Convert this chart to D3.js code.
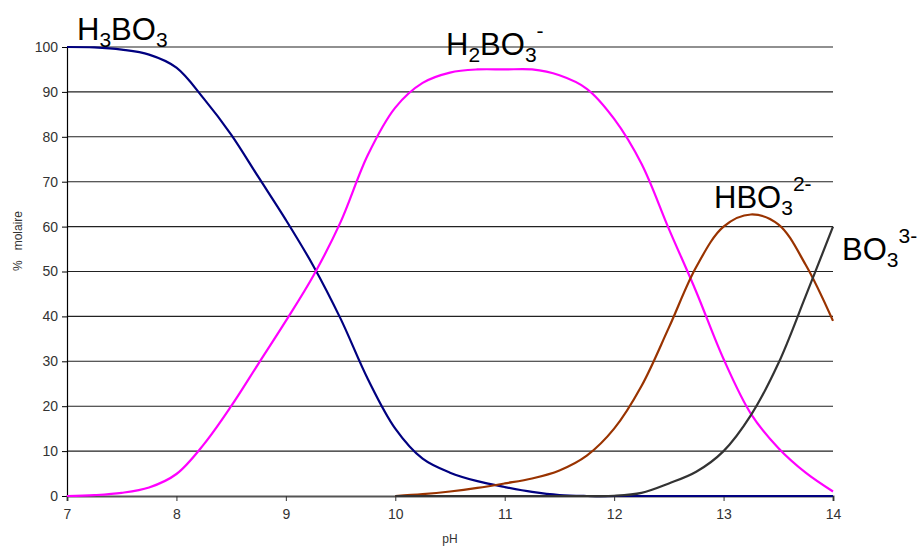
<!DOCTYPE html>
<html>
<head>
<meta charset="utf-8">
<script src="https://cdn.jsdelivr.net/npm/d3@7"></script>
<style>
  html, body { margin: 0; padding: 0; background: #fff; }
  svg { display: block; font-family: "Liberation Sans", Arial, sans-serif; }
</style>
</head>
<body>
<svg id="chart" width="921" height="546"></svg>
<script>
// ---- data ----
const pH = [7, 7.25, 7.5, 7.75, 8, 8.25, 8.5, 8.75, 9, 9.25, 9.5, 9.75, 10, 10.25, 10.5, 10.75,
            11, 11.25, 11.5, 11.75, 12, 12.25, 12.5, 12.75, 13, 13.25, 13.5, 13.75, 14];
const H3BO3 = [100, 99.9, 99.4, 98.3, 95.4, 88.5, 80.5, 71, 61.5, 51.3, 39.5, 26, 15, 8.3, 5.2, 3.3,
               2, 0.9, 0.2, 0, 0, 0, 0, 0, 0, 0, 0, 0, 0];
const H2BO3 = [0, 0.2, 0.7, 1.9, 4.9, 11.5, 20, 29.5, 39, 49, 61, 76, 86.5, 92, 94.3, 95,
               95, 95, 93.7, 90.7, 84, 74, 59.5, 45.5, 30.5, 18.3, 10.7, 5.2, 1];
const HBO3 = [null, null, null, null, null, null, null, null, null, null, null, null, 0, 0.4, 1.0, 1.8,
              2.8, 3.9, 5.7, 9, 15, 24.5, 37.5, 51, 60, 62.7, 60.5, 51.5, 39];
const BO3 = [null, null, null, null, null, null, null, null, null, null, null, null, 0, 0, 0, 0,
             0, 0, 0, 0, 0.05, 0.7, 2.8, 5.4, 10, 18, 29.5, 44.5, 60];
const xTicks = [7, 8, 9, 10, 11, 12, 13, 14];
const yTicks = [0, 10, 20, 30, 40, 50, 60, 70, 80, 90, 100];

const series = [
  { name: "H3BO3", values: H3BO3, color: "#000080" },
  { name: "H2BO3", values: H2BO3, color: "#FF00FF" },
  { name: "HBO3", values: HBO3, color: "#993300" },
  { name: "BO3", values: BO3, color: "#333333" }
];

// ---- layout ----
const svg = d3.select("#chart");
const x0 = 67, x1 = 833, yTop = 47, yBot = 496;
const x = d3.scaleLinear().domain([7, 14]).range([x0, x1]);
const y = d3.scaleLinear().domain([0, 100]).range([yBot, yTop]);

// gridlines
svg.append("g").selectAll("line").data(yTicks.filter(d => d > 0)).join("line")
  .attr("x1", x0).attr("x2", x1)
  .attr("y1", d => y(d)).attr("y2", d => y(d))
  .attr("stroke", "#222").attr("stroke-width", 1.1);

// y axis
const yAxis = svg.append("g").attr("transform", `translate(${x0},0)`)
  .call(d3.axisLeft(y).tickValues(yTicks).tickSize(5).tickPadding(4));
yAxis.select(".domain").attr("stroke", "#000").attr("stroke-width", 1.2);
yAxis.selectAll(".tick line").attr("stroke", "#000");
yAxis.selectAll("text").attr("font-size", 14).attr("fill", "#333")
  .attr("font-family", "Liberation Sans, Arial, sans-serif");

// x axis
const xAxis = svg.append("g").attr("transform", `translate(0,${yBot})`)
  .call(d3.axisBottom(x).tickValues(xTicks).tickFormat(d3.format("d")).tickSize(5).tickPadding(8));
xAxis.select(".domain").attr("stroke", "#555").attr("stroke-width", 2);
xAxis.selectAll(".tick line").attr("stroke", "#333");
xAxis.selectAll("text").attr("font-size", 14).attr("fill", "#333")
  .attr("font-family", "Liberation Sans, Arial, sans-serif");

// axis titles
svg.append("text").attr("x", 450).attr("y", 543).attr("text-anchor", "middle")
  .attr("font-size", 12).attr("fill", "#333").text("pH");
svg.append("text").attr("transform", "translate(22,241) rotate(-90)")
  .attr("text-anchor", "middle").attr("font-size", 12).attr("fill", "#333")
  .attr("xml:space", "preserve").style("white-space", "pre").text("%   molaire");

// lines
const line = d3.line()
  .defined(d => d[1] !== null)
  .x(d => x(d[0])).y(d => y(Math.max(0, d[1])))
  .curve(d3.curveCatmullRom.alpha(0.5));

svg.append("g").selectAll("path").data(series).join("path")
  .attr("d", s => line(pH.map((p, i) => [p, s.values[i]])))
  .attr("fill", "none")
  .attr("stroke", s => s.color)
  .attr("stroke-width", 2.2)
  .attr("stroke-linejoin", "round");

// species labels
const labels = [
  { x: 77, y: 40, parts: [["H", 0], ["3", 1], ["BO", 2], ["3", 1]] },
  { x: 446, y: 55, parts: [["H", 0], ["2", 1], ["BO", 2], ["3", 1], ["-", 3]] },
  { x: 714, y: 208, parts: [["HBO", 0], ["3", 1], ["2-", 3]] },
  { x: 842, y: 260, parts: [["BO", 0], ["3", 1], ["3-", 3]] }
];
labels.forEach(l => {
  const t = svg.append("text").attr("x", l.x).attr("y", l.y)
    .attr("font-size", 31).attr("fill", "#000");
  let state = 0;
  l.parts.forEach(([txt, kind]) => {
    const ts = t.append("tspan").text(txt);
    if (kind === 1) { ts.attr("font-size", 21).attr("dy", state === 1 ? 0 : 7); state = 1; }
    else if (kind === 2) { ts.attr("dy", state === 1 ? -7 : 0); state = 0; }
    else if (kind === 3) { ts.attr("font-size", 21).attr("dy", state === 1 ? -24 : -17); state = 2; }
  });
});
</script>
</body>
</html>
